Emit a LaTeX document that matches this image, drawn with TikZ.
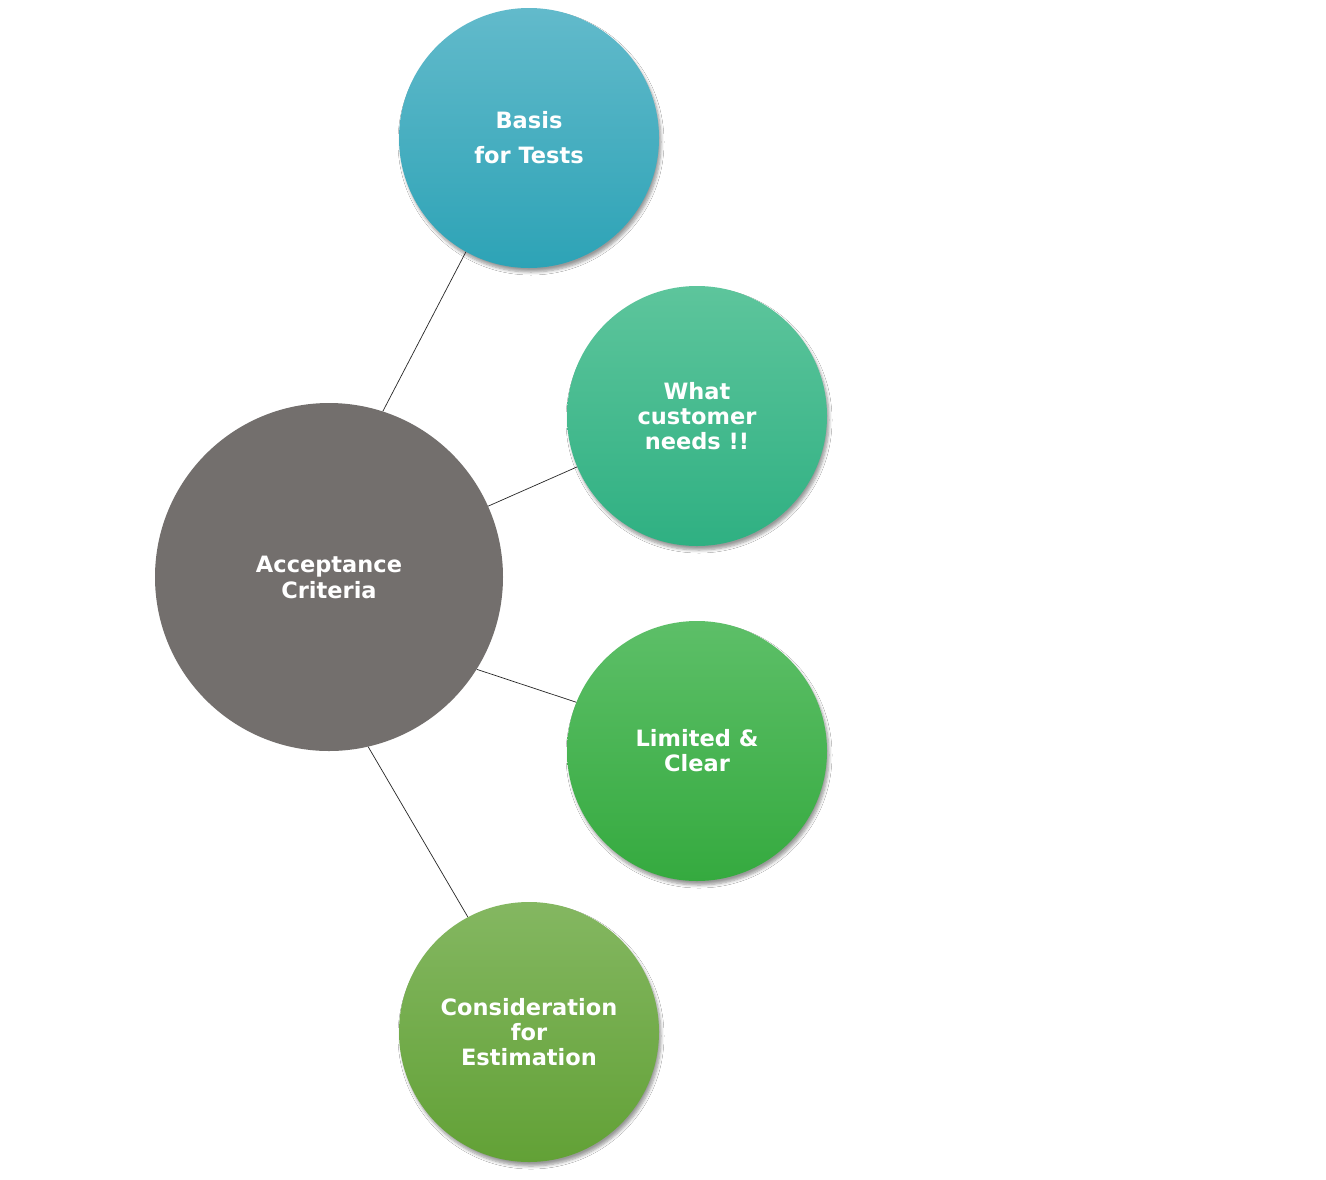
\documentclass[tikz,border=0pt]{standalone}
\usepackage{fontspec}
\setmainfont{DejaVu Sans}
\usetikzlibrary{shadows.blur}
\definecolor{cgray}{HTML}{736F6D}
\definecolor{c1t}{HTML}{62BACB}\definecolor{c1b}{HTML}{2DA3B6}
\definecolor{c2t}{HTML}{5DC59C}\definecolor{c2b}{HTML}{2FB082}
\definecolor{c3t}{HTML}{5DBF68}\definecolor{c3b}{HTML}{35AA3F}
\definecolor{c4t}{HTML}{84B761}\definecolor{c4b}{HTML}{62A136}
\tikzset{
  bubble/.style={circle, inner sep=0pt, minimum size=260pt, align=center,
    text=white, font=\fontsize{22.5}{25}\selectfont\bfseries,
    blur shadow={shadow xshift=2pt, shadow yshift=-4pt, shadow blur steps=6, shadow blur radius=3pt, shadow opacity=40}},
  link/.style={draw=black!85, line width=0.7pt}
}
\begin{document}
\begin{tikzpicture}[x=1pt,y=-1pt]
\useasboundingbox[fill=white] (0,0) rectangle (1326,1179);
\node[circle, inner sep=0pt, minimum size=348pt, fill=cgray, align=center, text=white,
  font=\fontsize{22.5}{26}\selectfont\bfseries] (ac) at (329,577) {Acceptance\\Criteria};
\node[bubble, top color=c1t, bottom color=c1b, font=\fontsize{22.5}{35}\selectfont\bfseries] (b1) at (529,138) {Basis\\for Tests};
\node[bubble, top color=c2t, bottom color=c2b] (b2) at (697,416) {What\\customer\\needs !!};
\node[bubble, top color=c3t, bottom color=c3b] (b3) at (697,751) {Limited \&\\Clear};
\node[bubble, top color=c4t, bottom color=c4b] (b4) at (529,1032) {Consideration\\for\\Estimation};
\draw[link] (ac.72.6) -- (b1.241.7);
\draw[link] (ac.24.5) -- (b2.203.2);
\draw[link] (ac.328.6) -- (b3.158.8);
\draw[link] (ac.283.2) -- (b4.118.9);
\end{tikzpicture}
\end{document}
